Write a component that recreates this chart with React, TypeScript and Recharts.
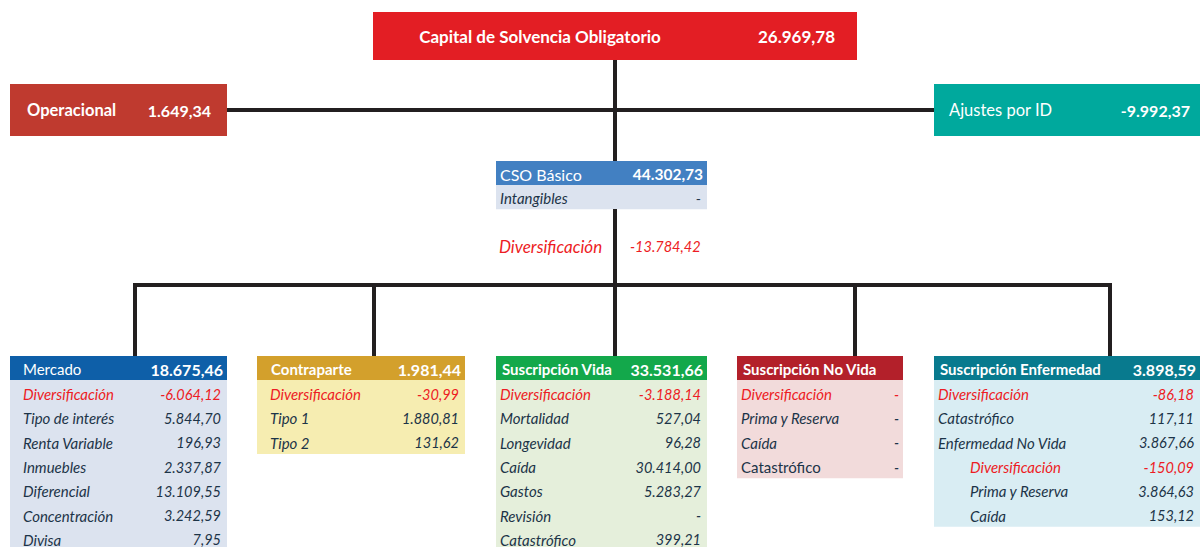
import React from "react";
import { ScatterChart, Scatter, XAxis, YAxis, ReferenceArea, ReferenceLine } from "recharts";

const FONT = "Lato, 'Open Sans', sans-serif";

// values
const topLabel = "Capital de Solvencia Obligatorio";
const topValue = 26969.78;
const opLabel = "Operacional";
const opValue = 1649.34;
const adjLabel = "Ajustes por ID";
const adjValue = -9992.37;
const csoLabel = "CSO Básico";
const csoValue = 44302.73;
const csoRows = ["Intangibles"];
const csoRowValues: (number | null)[] = [null];
const divLabel = "Diversificación";
const csoDivValue = -13784.42;

const modules = ["Mercado", "Contraparte", "Suscripción Vida", "Suscripción No Vida", "Suscripción Enfermedad"];
const moduleValues: (number | null)[] = [18675.46, 1981.44, 33531.66, null, 3898.59];

const mercadoRows = ["Diversificación", "Tipo de interés", "Renta Variable", "Inmuebles", "Diferencial", "Concentración", "Divisa"];
const mercadoValues: (number | null)[] = [-6064.12, 5844.7, 196.93, 2337.87, 13109.55, 3242.59, 7.95];
const contraparteRows = ["Diversificación", "Tipo 1", "Tipo 2"];
const contraparteValues: (number | null)[] = [-30.99, 1880.81, 131.62];
const vidaRows = ["Diversificación", "Mortalidad", "Longevidad", "Caída", "Gastos", "Revisión", "Catastrófico"];
const vidaValues: (number | null)[] = [-3188.14, 527.04, 96.28, 30414.0, 5283.27, null, 399.21];
const noVidaRows = ["Diversificación", "Prima y Reserva", "Caída", "Catastrófico"];
const noVidaValues: (number | null)[] = [null, null, null, null];
const enfermedadRows = ["Diversificación", "Catastrófico", "Enfermedad No Vida", "Diversificación", "Prima y Reserva", "Caída"];
const enfermedadValues: (number | null)[] = [-86.18, 117.11, 3867.66, -150.09, 3864.63, 153.12];

const moduleRows = [mercadoRows, contraparteRows, vidaRows, noVidaRows, enfermedadRows];
const moduleRowValues = [mercadoValues, contraparteValues, vidaValues, noVidaValues, enfermedadValues];

// layout / styles
const W = 1200;
const H = 547;
const LINE = "#231F20";
const RED_TEXT = "#ED1C24";
const ROW_TEXT = "#1C3448";
const ROW_H = 24.3;
const HEAD_H = 24;

const moduleLayout = [
  { x1: 10, x2: 227, drop: 135, head: "#0E5FA8", body: "#DCE3EF", headBold: false, indent: [], upright: [] as number[] },
  { x1: 257, x2: 465, drop: 374, head: "#D3A02C", body: "#F6EDB1", headBold: true, indent: [], upright: [] },
  { x1: 496, x2: 707, drop: 615, head: "#13A84B", body: "#E5EFDB", headBold: true, indent: [], upright: [] },
  { x1: 737, x2: 903, drop: 855, head: "#B3202A", body: "#F2DBDB", headBold: true, indent: [], upright: [3] },
  { x1: 934, x2: 1200, drop: 1110, head: "#087A8E", body: "#D9EDF3", headBold: true, indent: [3, 4, 5], upright: [] },
];
const moduleTop = 356;
const busY = 285;

const fmt = (v: number | null) =>
  v === null
    ? "-"
    : v
        .toLocaleString("en-US", { minimumFractionDigits: 2, maximumFractionDigits: 2 })
        .replace(/,/g, "#")
        .replace(".", ",")
        .replace(/#/g, ".");

type Mark = {
  x: number;
  y: number;
  text: string;
  anchor?: "start" | "middle" | "end";
  color?: string;
  size?: number;
  bold?: boolean;
  italic?: boolean;
};

const marks: Mark[] = [];

// top boxes
marks.push({ x: 540, y: 36, text: topLabel, anchor: "middle", color: "#fff", size: 17, bold: true });
marks.push({ x: 835, y: 36, text: fmt(topValue), anchor: "end", color: "#fff", size: 17, bold: true });
marks.push({ x: 27, y: 110, text: opLabel, color: "#fff", size: 16.5, bold: true });
marks.push({ x: 211, y: 110, text: fmt(opValue), anchor: "end", color: "#fff", size: 16, bold: true });
marks.push({ x: 949, y: 110, text: adjLabel, color: "#fff", size: 16.5 });
marks.push({ x: 1190, y: 110, text: fmt(adjValue), anchor: "end", color: "#fff", size: 16, bold: true });

// CSO basico
marks.push({ x: 500, y: 174, text: csoLabel, color: "#fff", size: 16 });
marks.push({ x: 703, y: 174, text: fmt(csoValue), anchor: "end", color: "#fff", size: 15.5, bold: true });
csoRows.forEach((r, i) => {
  const y = 185 + ROW_H * (i + 0.5) + 1;
  marks.push({ x: 500, y, text: r, color: ROW_TEXT, size: 15, italic: true });
  marks.push({ x: 701, y, text: fmt(csoRowValues[i]), anchor: "end", color: ROW_TEXT, size: 14 });
});
marks.push({ x: 499, y: 246, text: divLabel, color: RED_TEXT, size: 17, italic: true });
marks.push({ x: 630, y: 246, text: fmt(csoDivValue), color: RED_TEXT, size: 14.5, italic: true });

// modules
modules.forEach((m, k) => {
  const L = moduleLayout[k];
  const hy = moduleTop + HEAD_H / 2 + 1;
  marks.push({ x: L.x1 + (k === 0 ? 13 : k === 1 ? 14 : 6), y: hy, text: m, color: "#fff", size: 15, bold: L.headBold });
  if (moduleValues[k] !== null)
    marks.push({ x: L.x2 - 4, y: hy, text: fmt(moduleValues[k]), anchor: "end", color: "#fff", size: 16, bold: true });
  moduleRows[k].forEach((r, i) => {
    const y = moduleTop + HEAD_H + ROW_H * (i + 0.5) + 2;
    const red = r === divLabel;
    const x0 = L.x1 + (k <= 1 ? 13 : 4) + ((L.indent as number[]).includes(i) ? 32 : 0);
    marks.push({ x: x0, y, text: r, color: red ? RED_TEXT : ROW_TEXT, size: 15, italic: !L.upright.includes(i) });
    marks.push({
      x: L.x2 - (k === 3 ? 4 : 6),
      y,
      text: fmt(moduleRowValues[k][i]),
      anchor: "end",
      color: red ? RED_TEXT : ROW_TEXT,
      size: 14.5,
      italic: true,
    });
  });
});

const TextMark = (props: any) => {
  const p: Mark = props.payload;
  return (
    <text
      x={props.cx}
      y={props.cy}
      textAnchor={p.anchor || "start"}
      dominantBaseline="central"
      fill={p.color}
      fontSize={p.size}
      fontWeight={p.bold ? 700 : 400}
      fontStyle={p.italic ? "italic" : "normal"}
      fontFamily={FONT}
    >
      {p.text}
    </text>
  );
};

export default function App() {
  return (
    <div style={{ position: "absolute", left: 0, top: 0, background: "#fff" }}>
      <ScatterChart width={W} height={H} margin={{ top: 0, right: 0, bottom: 0, left: 0 }}>
        <XAxis type="number" dataKey="x" domain={[0, W]} hide allowDataOverflow />
        <YAxis type="number" dataKey="y" domain={[0, H]} reversed hide allowDataOverflow />

        {/* connectors */}
        <ReferenceLine segment={[{ x: 615, y: 60 }, { x: 615, y: 161 }]} stroke={LINE} strokeWidth={4} />
        <ReferenceLine segment={[{ x: 227, y: 110 }, { x: 934, y: 110 }]} stroke={LINE} strokeWidth={4} />
        <ReferenceLine segment={[{ x: 615, y: 209 }, { x: 615, y: busY }]} stroke={LINE} strokeWidth={4} />
        <ReferenceLine segment={[{ x: 133, y: busY }, { x: 1112, y: busY }]} stroke={LINE} strokeWidth={4} />
        {moduleLayout.map((L, k) => (
          <ReferenceLine key={"d" + k} segment={[{ x: L.drop, y: busY }, { x: L.drop, y: moduleTop }]} stroke={LINE} strokeWidth={4} />
        ))}

        {/* boxes */}
        <ReferenceArea x1={373} x2={857} y1={12} y2={60} fill="#E31E24" fillOpacity={1} ifOverflow="visible" />
        <ReferenceArea x1={10} x2={227} y1={84} y2={136} fill="#BF3A2F" fillOpacity={1} ifOverflow="visible" />
        <ReferenceArea x1={934} x2={1200} y1={84} y2={136} fill="#00A99D" fillOpacity={1} ifOverflow="visible" />
        <ReferenceArea x1={496} x2={707} y1={161} y2={185} fill="#4280C2" fillOpacity={1} ifOverflow="visible" />
        <ReferenceArea x1={496} x2={707} y1={185} y2={185 + ROW_H * csoRows.length} fill="#DCE3EF" fillOpacity={1} ifOverflow="visible" />
        {moduleLayout.map((L, k) => (
          <ReferenceArea key={"h" + k} x1={L.x1} x2={L.x2} y1={moduleTop} y2={moduleTop + HEAD_H} fill={L.head} fillOpacity={1} ifOverflow="visible" />
        ))}
        {moduleLayout.map((L, k) => (
          <ReferenceArea
            key={"b" + k}
            x1={L.x1}
            x2={L.x2}
            y1={moduleTop + HEAD_H}
            y2={Math.min(H, moduleTop + HEAD_H + ROW_H * moduleRows[k].length + 1)}
            fill={L.body}
            fillOpacity={1}
            ifOverflow="visible"
          />
        ))}

        <Scatter data={marks} shape={TextMark} isAnimationActive={false} />
      </ScatterChart>
    </div>
  );
}
